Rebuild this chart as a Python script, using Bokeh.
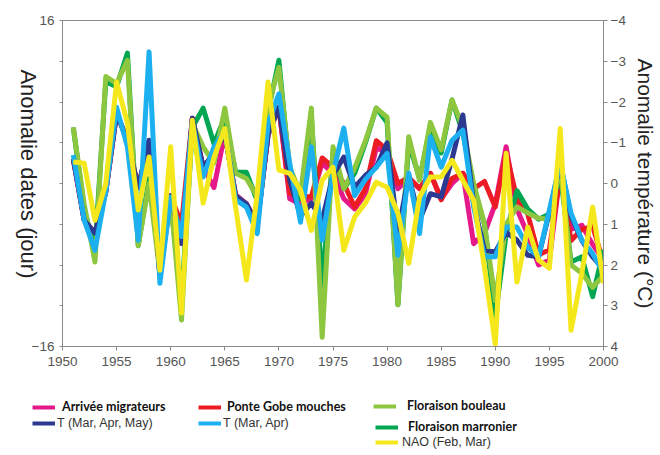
import math
from bokeh.plotting import figure
from bokeh.models import Range1d, LinearAxis, FixedTicker, Legend, LegendItem, Label
from bokeh.layouts import row, column
from bokeh.embed import file_html
from bokeh.resources import INLINE

years = list(range(1951, 2001))

# days (left axis)
arrivee = [2.4, -3.6, -4.9, -0.8, 6.9, 4.2, -0.4, 4.2, -9.0, -1.2, -5.9, 6.4, 1.6, -0.4, 4.9, -1.1, -2.0, -4.0, 4.8, 7.5,
           -1.5, -2.0, -1.5, 2.0, 1.0, -1.5, -2.5, -1.0, 3.5, 3.0, -0.5, 0.5, -0.5, 1.0, -1.5, 0.0, 1.0, -5.9, -4.9, -2.0,
           3.6, -2.5, -5.0, -8.0, -7.5, 1.0, -4.5, -4.1, -6.0, -7.5]
ponte = [2.4, -3.6, -4.9, -0.8, 6.9, 4.2, -0.4, 4.2, -9.0, -1.2, -4.0, 6.4, 1.6, 3.0, 4.9, -1.2, -2.0, -4.0, 4.8, 7.5,
         -1.0, -1.3, -1.3, 2.5, 1.6, 0.0, -2.3, -0.5, 4.2, 3.3, 0.0, 0.6, -0.5, 1.0, -1.6, 0.5, 1.0, -0.5, 0.2, -2.3,
         3.0, -1.5, -3.0, -7.0, -6.5, 1.0, -5.6, -4.5, -4.2, -7.8]
bouleau = [5.5, -2.0, -7.7, 10.5, 9.8, 12.1, -6.1, 0.0, -8.8, -1.6, -13.4, 5.9, 3.6, 2.0, 7.4, 1.0, 0.5, -1.3, 7.5, 11.4,
           1.6, -1.0, 7.4, -15.1, 3.6, -0.5, 1.5, 4.2, 7.4, 6.5, -11.9, 4.6, 0.3, 6.0, 3.3, 8.2, 5.5, 0.0, -4.0, -11.5,
           -4.0, -2.3, -2.9, -3.4, -3.5, 1.6, -8.0, -8.8, -10.2, -9.0]
marronier = [5.5, -2.5, -6.5, 10.0, 9.5, 12.8, -6.1, 0.5, -8.0, -1.8, -11.5, 5.5, 7.4, 3.9, 6.5, 1.1, 1.1, -1.7, 7.0, 12.1,
             1.0, -1.5, 6.5, -10.0, 3.0, -0.5, 1.0, 4.0, 7.4, 6.0, -11.9, 4.0, 0.5, 5.5, 3.0, 8.2, 5.0, -0.5, -4.0, -13.1,
             -5.0, -0.7, -2.5, -3.5, -3.0, 1.0, -7.7, -7.2, -11.1, -6.5]
# degrees C (right axis, inverted)
t_mam = [-0.6, 0.9, 1.22, 0.2, -1.72, -1.06, 0.1, -1.06, 2.25, 0.3, 1.47, -1.6, -0.4, -0.74, -1.23, 0.3, 0.5, 1.0, -1.2, -1.87,
         -0.08, 0.8, 0.48, 0.9, -0.2, -0.65, 0.09, -0.2, -0.4, -1.0, 1.2, -0.2, 0.9, 0.25, 0.33, -0.6, -1.68, 0.5, 1.64, 1.68,
         1.2, 1.39, 1.76, 1.8, 0.7, -0.5, 0.8, 1.4, 1.8, 2.1]
t_ma = [-0.7, 0.9, 1.64, 0.2, -1.87, -0.9, 1.39, -3.23, 2.45, 0.33, 1.3, -1.5, -0.16, -0.9, -1.3, 0.4, 0.58, 1.23, -1.48, -2.2,
        -0.5, 0.95, -0.9, 1.39, -0.25, -1.36, 0.3, -0.1, -0.4, -0.74, 1.76, -0.25, 1.23, -1.14, -0.4, -1.06, -1.31, 0.57, 1.8, 1.8,
        1.07, 1.07, 1.56, 1.8, 0.65, -0.5, 0.73, 1.39, 1.72, 2.2]
nao = [-0.53, -0.5, 0.9, 0.0, -2.49, -1.48, 0.65, -0.65, 2.13, -0.9, 3.18, -1.55, 0.48, -0.65, -1.35, 0.58, 2.37, 0.24, -2.49, -0.33,
       -0.25, 0.16, 1.15, -0.08, -0.4, 1.64, 0.82, 0.48, -0.03, 0.09, 0.73, 1.96, 0.33, -0.16, -0.16, -0.57, -0.08, 0.41, 2.05, 3.95,
       -0.74, 2.42, 1.07, 1.88, 2.08, -1.35, 3.6, 2.2, 0.58, 2.45]

x_ticks = [1950, 1955, 1960, 1965, 1970, 1975, 1980, 1985, 1990, 1995, 2000]
left_ticks = [-16, -12, -8, -4, 0, 4, 8, 12, 16]
right_ticks = [-4, -3, -2, -1, 0, 1, 2, 3, 4]

left_title = "Anomalie  dates (jour)"
right_title = "Anomalie température (°C)"

series = {
    "arrivee": (arrivee, "#e5198a", "default"),
    "ponte": (ponte, "#ed1c24", "default"),
    "marronier": (marronier, "#00a651", "default"),
    "bouleau": (bouleau, "#8dc63f", "default"),
    "t_mam": (t_mam, "#2b3990", "temp"),
    "t_ma": (t_ma, "#1cb0f0", "temp"),
    "nao": (nao, "#f4e81c", "temp"),
}

GREY = "#8a8a8a"
TICKCOL = "#555555"
TOP_H = 375
LEFT_W = 46
OVERLAP = 18

p = figure(width=660 - LEFT_W + OVERLAP, height=TOP_H, output_backend="svg", toolbar_location=None,
           x_range=Range1d(1950, 2000), y_range=Range1d(-16, 16),
           min_border_left=60 - LEFT_W + OVERLAP, min_border_right=57, min_border_top=20, min_border_bottom=29)
p.extra_y_ranges = {"temp": Range1d(start=4, end=-4)}
p.grid.visible = False
p.outline_line_color = GREY
p.background_fill_color = "white"
p.border_fill_alpha = 0
p.styles = {"margin-left": "-%dpx" % OVERLAP}

xa = p.xaxis[0]
xa.ticker = FixedTicker(ticks=x_ticks)
xa.major_label_standoff = 6
ya = p.yaxis[0]
ya.ticker = FixedTicker(ticks=left_ticks)
ya.major_label_overrides = {float(t): ("16" if t == 16 else ("\u221216" if t == -16 else "")) for t in left_ticks}
ya.major_label_standoff = 5
ra = LinearAxis(y_range_name="temp", ticker=FixedTicker(ticks=right_ticks), axis_label=right_title)
ra.major_label_overrides = {float(t): (("\u2212%d" % -t) if t < 0 else str(t)) for t in right_ticks}
ra.major_label_standoff = 3
ra.axis_label_standoff = 5
p.add_layout(ra, "right")

for ax in [xa, ya, ra]:
    ax.axis_line_color = GREY
    ax.major_tick_line_color = GREY
    ax.minor_tick_line_color = None
    ax.major_tick_in = 0
    ax.major_tick_out = 4 if ax is not ya else 3
    ax.major_label_text_color = TICKCOL
    ax.major_label_text_font = "Liberation Sans"
    ax.major_label_text_font_size = "13.5px"
    ax.axis_label_text_font = "Liberation Sans"
    ax.axis_label_text_font_size = "21px"
    ax.axis_label_text_font_style = "normal"
    ax.axis_label_text_color = "#222222"

LW = 5
renderers = {}
for key, (vals, col, rng) in series.items():
    kw = {} if rng == "default" else {"y_range_name": rng}
    renderers[key] = p.line(years, vals, line_color=col, line_width=LW, line_join="round", **kw)

# left title panel (text reads top to bottom like the reference)
lt = figure(width=LEFT_W, height=TOP_H, output_backend="svg", toolbar_location=None,
            x_range=Range1d(0, LEFT_W), y_range=Range1d(0, TOP_H), x_axis_type=None, y_axis_type=None,
            min_border=0, outline_line_color=None)
lt.grid.visible = False
lt.add_layout(Label(x=28, y=TOP_H - 180, text=left_title, angle=-math.pi / 2, text_align="center",
                    text_baseline="middle", text_font="Liberation Sans", text_font_size="22px",
                    text_color="#222222"))

# legend panel
LEG_H = 455 - TOP_H
lg = figure(width=660, height=LEG_H, output_backend="svg", toolbar_location=None,
            x_range=Range1d(1950, 2000), y_range=Range1d(-16, 16), x_axis_type=None, y_axis_type=None,
            min_border=0, outline_line_color=None)
lg.grid.visible = False
lg.extra_y_ranges = {"temp": Range1d(start=4, end=-4)}

entries = [
    ("Arrivée migrateurs", "arrivee", (32, 41), 7, "bold"),
    ("T (Mar, Apr, May)", "t_mam", (32, 25), 2, "normal"),
    ("Ponte Gobe mouches", "ponte", (198, 41), 6, "bold"),
    ("T (Mar, Apr)", "t_ma", (198, 25), 2, "normal"),
    ("Floraison bouleau", "bouleau", (373, 42), 11, "bold"),
    ("Floraison marronier", "marronier", (375, 21), 10, "bold"),
    ("NAO (Feb, Mar)", "nao", (375, 6), 4, "normal"),
]
for label, key, loc, standoff, style in entries:
    vals, col, rng = series[key]
    kw = {} if rng == "default" else {"y_range_name": rng}
    sw = lg.line(years, vals, line_color=col, line_width=4, visible=False, **kw)
    leg = Legend(items=[LegendItem(label=label, renderers=[sw])], location=loc)
    leg.padding = 0
    leg.margin = 0
    leg.spacing = 0
    leg.border_line_color = None
    leg.background_fill_alpha = 0
    leg.inactive_fill_alpha = 0
    leg.glyph_width = 23
    leg.glyph_height = 14
    leg.label_height = 14
    leg.label_standoff = standoff
    leg.label_text_font_size = "12.5px"
    leg.label_text_font = "Lato" if style == "bold" else "Liberation Sans"
    leg.label_text_font_style = style
    leg.label_text_color = "#111111" if style == "bold" else "#333333"
    leg.label_text_baseline = "middle"
    lg.add_layout(leg)

layout = column(row(lt, p), lg)
open("out.html", "w").write(file_html(layout, INLINE))
